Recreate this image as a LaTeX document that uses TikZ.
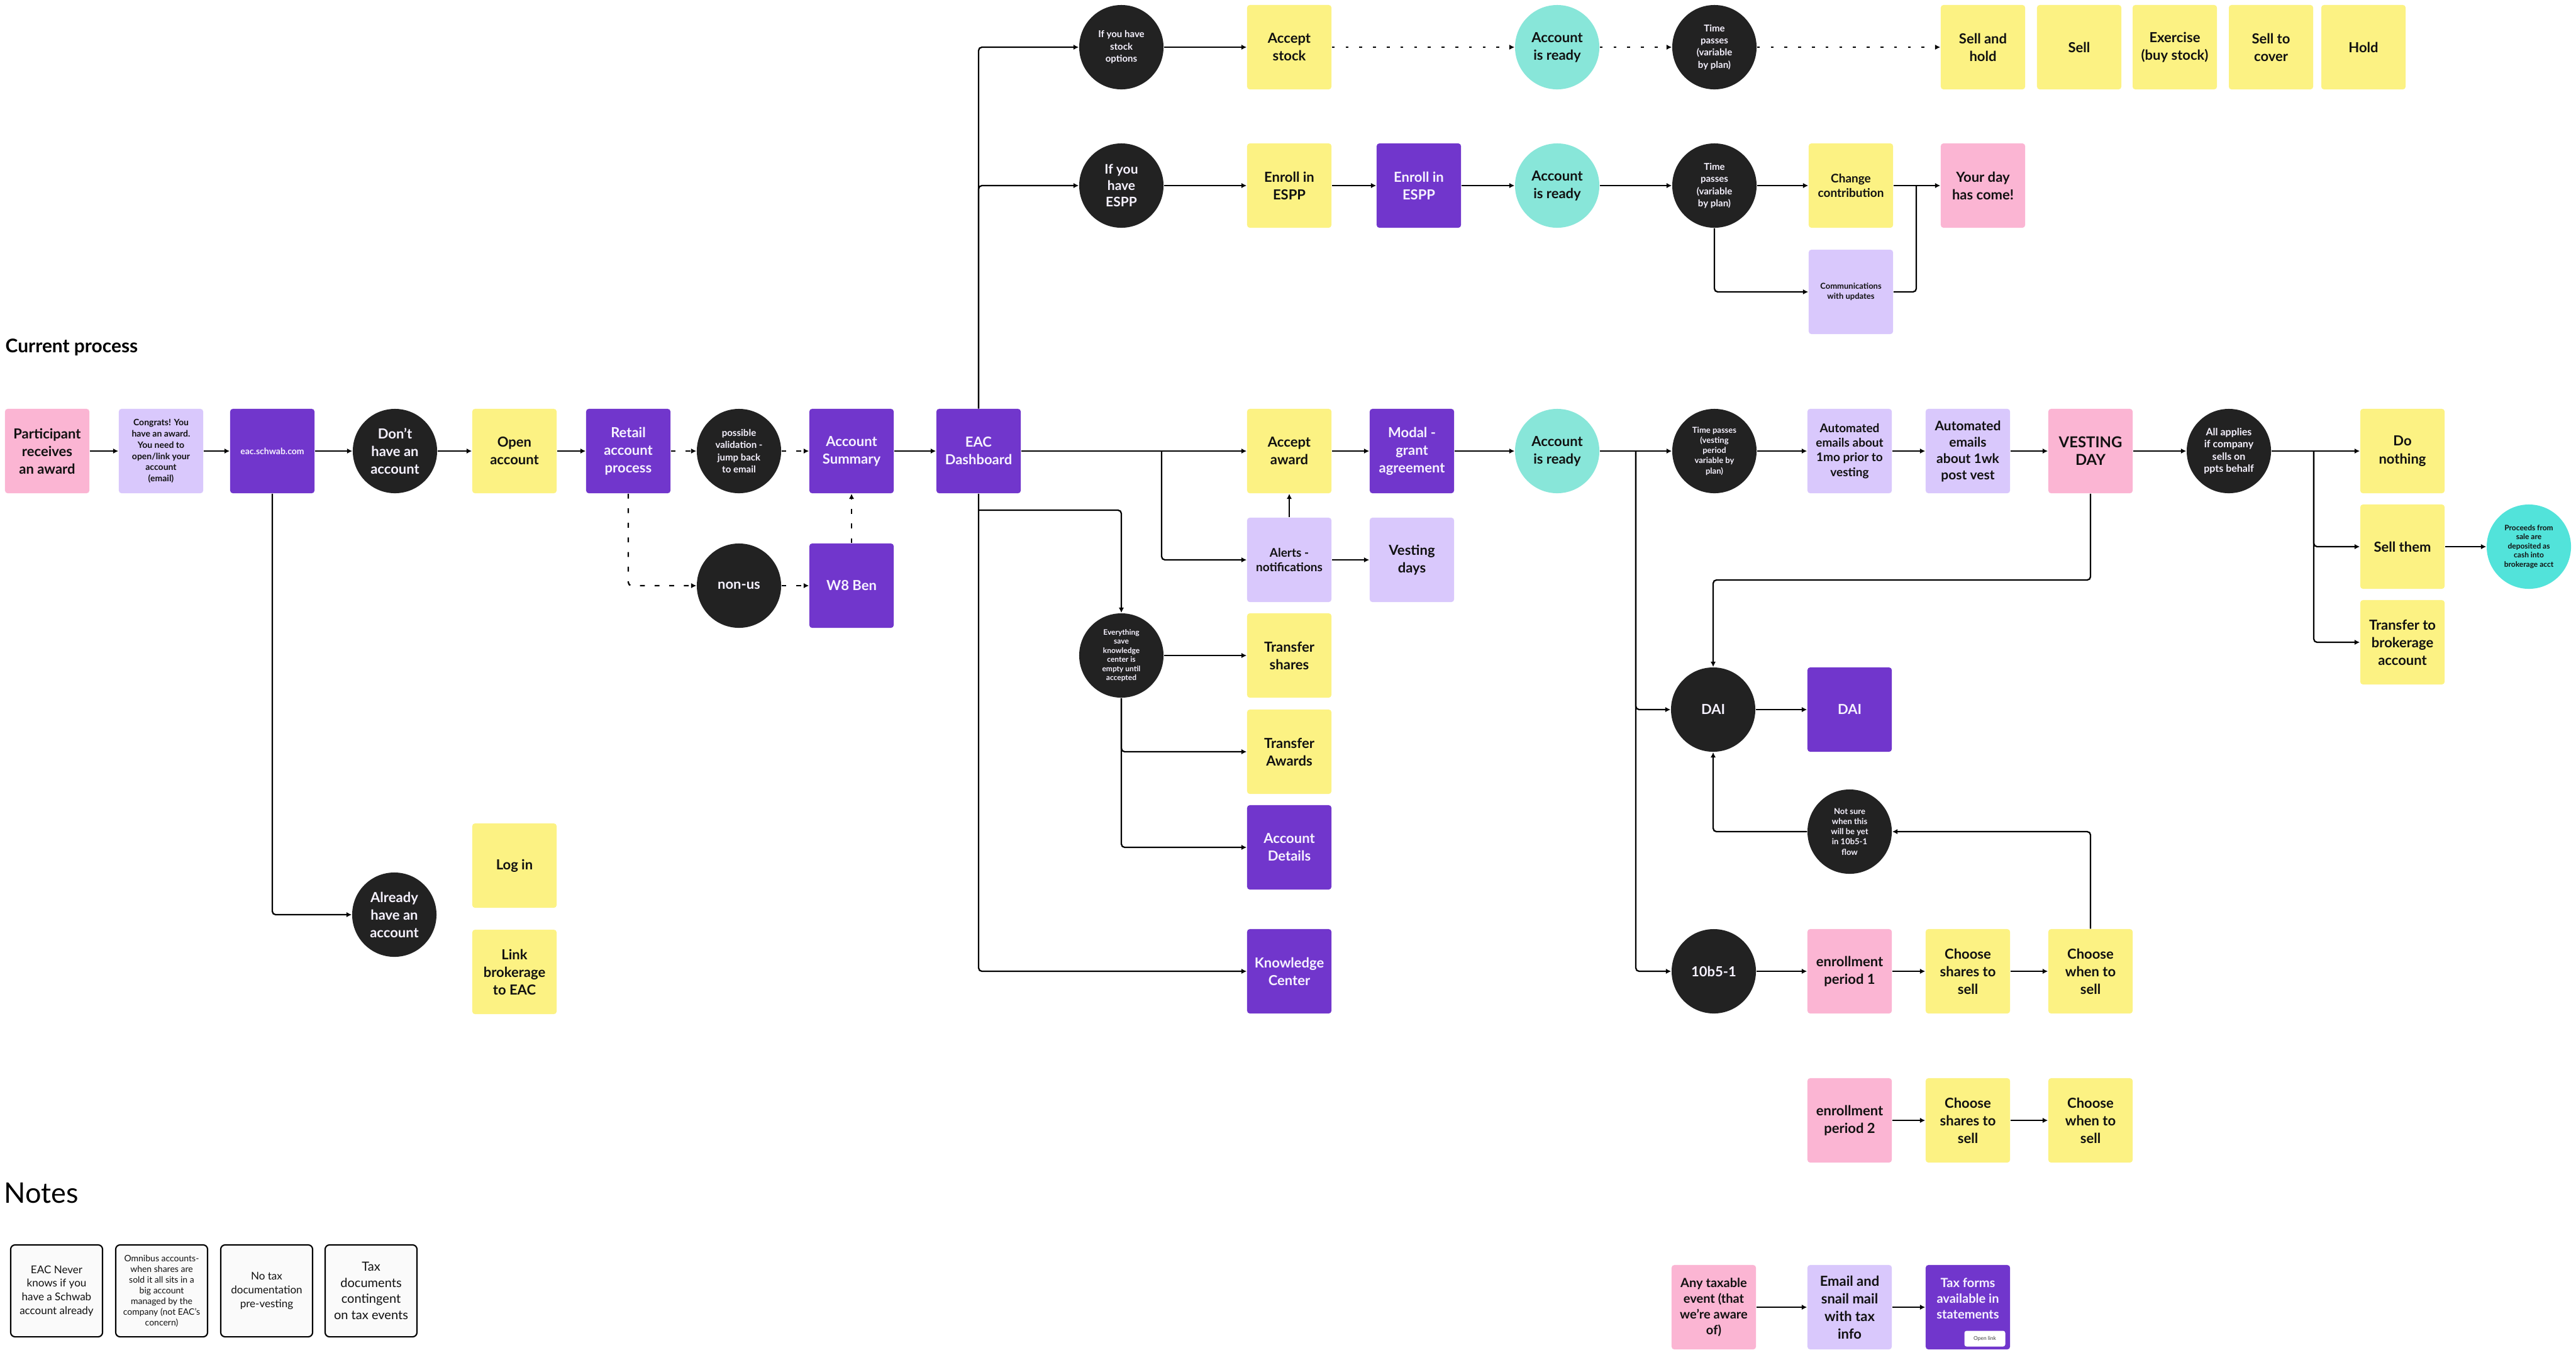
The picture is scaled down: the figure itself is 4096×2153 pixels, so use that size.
\documentclass[tikz,border=0pt]{standalone}
\usepackage{fontspec}
\setmainfont{Lato}
\usetikzlibrary{arrows.meta, positioning, calc}
\usepackage{xcolor}
\definecolor{NoteYellow}{HTML}{FCF283}
\definecolor{NotePink}{HTML}{FBB5D3}
\definecolor{NoteLilac}{HTML}{D9C8FC}
\definecolor{NotePurple}{HTML}{7136CC}
\definecolor{CircleInk}{HTML}{222222}
\definecolor{CircleTeal}{HTML}{88E6D9}
\definecolor{CircleAqua}{HTML}{52E3DA}
\definecolor{MemoGray}{HTML}{FAFAFA}
\definecolor{TextInk}{HTML}{111111}
\definecolor{TextLight}{HTML}{F6F2FF}
% font sizes (picture is drawn at 1 unit = 1 px of the board)
\newcommand{\fsXL}{\fontsize{6.8}{8}\selectfont}
\newcommand{\fsL}{\fontsize{6.26}{7.97}\selectfont}
\newcommand{\fsLm}{\fontsize{5.97}{7.4}\selectfont}
\newcommand{\fsMs}{\fontsize{5.7}{7.1}\selectfont}
\newcommand{\fsM}{\fontsize{5.4}{6.6}\selectfont}
\newcommand{\fsS}{\fontsize{4.27}{5.5}\selectfont}
\newcommand{\fsXS}{\fontsize{3.98}{5.1}\selectfont}
\newcommand{\fsXXS}{\fontsize{3.7}{4.6}\selectfont}
\newcommand{\fsT}{\fontsize{3.4}{4.1}\selectfont}
\tikzset{
    % Sticky notes - square, slightly rounded
    sticky/.style={
        rectangle,
        rounded corners=1.2pt,
        minimum width=1.34cm,
        minimum height=1.34cm,
        inner sep=1pt,
        align=center,
        text=TextInk,
        font=\fsL\bfseries
    },
    yellownote/.style={sticky, fill=NoteYellow},
    pinknote/.style={sticky, fill=NotePink},
    lilacnote/.style={sticky, fill=NoteLilac},
    purplenote/.style={sticky, fill=NotePurple, text=TextLight},
    % Circles
    darkcircle/.style={
        circle,
        fill=CircleInk,
        minimum size=1.34cm,
        inner sep=0pt,
        align=center,
        text=TextLight,
        font=\fsL\bfseries
    },
    tealcircle/.style={darkcircle, fill=CircleTeal, text=TextInk},
    aquacircle/.style={darkcircle, fill=CircleAqua, text=TextInk},
    % Notes boxes
    memo/.style={
        rectangle,
        rounded corners=2pt,
        draw=black,
        line width=0.6pt,
        fill=MemoGray,
        minimum width=1.46cm,
        minimum height=1.46cm,
        inner sep=1pt,
        align=center,
        text=TextInk,
        font=\fontsize{4.84}{6.17}\selectfont
    },
    % Connectors
    link/.style={
        line width=0.65pt,
        draw=black,
        rounded corners=1.5pt
    },
    arrow/.style={
        link,
        -{Latex[length=2.4pt,width=2.4pt]}
    },
    dashedarrow/.style={
        arrow,
        dash pattern=on 2.2pt off 4.4pt
    },
    dottedarrow/.style={
        arrow,
        dash pattern=on 1.3pt off 4.9pt
    }
}

\begin{document}
\begin{tikzpicture}[x=0.01cm, y=-0.01cm]
    \fill[white] (0,0) rectangle (4096,2153);
    \useasboundingbox (0,0) rectangle (4096,2153);

    % Titles
    \node[anchor=base west, inner sep=0pt, font=\fontsize{8.5}{10}\selectfont\bfseries] (title) at (8,560) {Current process};
    \node[anchor=base west, inner sep=0pt, font=\fontsize{12.8}{14}\selectfont] (notestitle) at (6,1912) {Notes};

    % Stock options row
    \node[darkcircle, font=\fsS\bfseries] (opt) at (1783,75) {If you have\\stock\\options};
    \node[yellownote] (acstock) at (2050,75) {Accept\\stock};
    \node[tealcircle] (ready1) at (2476,75) {Account\\is ready};
    \node[darkcircle, font=\fsS\bfseries] (time1) at (2726,75) {Time\\passes\\(variable\\by plan)};
    \node[yellownote] (sellhold) at (3153,75) {Sell and\\hold};
    \node[yellownote] (sell) at (3306,75) {Sell};
    \node[yellownote] (exercise) at (3458,75) {Exercise\\(buy stock)};
    \node[yellownote] (sellcover) at (3611,75) {Sell to\\cover};
    \node[yellownote] (hold) at (3758,75) {Hold};

    % ESPP row
    \node[darkcircle, font=\fsLm\bfseries] (espp) at (1783,295) {If you\\have\\ESPP};
    \node[yellownote] (enrolly) at (2050,295) {Enroll in\\ESPP};
    \node[purplenote] (enrollp) at (2256,295) {Enroll in\\ESPP};
    \node[tealcircle] (ready2) at (2476,295) {Account\\is ready};
    \node[darkcircle, font=\fsS\bfseries] (time2) at (2726,295) {Time\\passes\\(variable\\by plan)};
    \node[yellownote, font=\fsM\bfseries] (change) at (2943,295) {Change\\contribution};
    \node[lilacnote, font=\fsXXS\bfseries] (comms) at (2943,464) {Communications\\with updates};
    \node[pinknote] (dayhas) at (3153,295) {Your day\\has come!};

    % Main row
    \node[pinknote] (award) at (75,717) {Participant\\receives\\an award};
    \node[lilacnote, font=\fsXS\bfseries] (congrats) at (256,717) {Congrats! You\\have an award.\\You need to\\open/link your\\account\\(email)};
    \node[purplenote, font=\fsXS\bfseries] (eac) at (433,717) {eac.schwab.com};
    \node[darkcircle] (dont) at (628,717) {Don't\\have an\\account};
    \node[yellownote] (open) at (818,717) {Open\\account};
    \node[purplenote] (retail) at (999,717) {Retail\\account\\process};
    \node[darkcircle, font=\fsS\bfseries] (valid) at (1175,717) {possible\\validation -\\jump back\\to email};
    \node[purplenote] (summary) at (1354,717) {Account\\Summary};
    \node[purplenote] (dash) at (1556,717) {EAC\\Dashboard};
    \node[yellownote] (acaward) at (2050,717) {Accept\\award};
    \node[purplenote] (modal) at (2245,717) {Modal -\\grant\\agreement};
    \node[tealcircle] (ready3) at (2476,717) {Account\\is ready};
    \node[darkcircle, font=\fsXXS\bfseries] (time3) at (2726,717) {Time passes\\(vesting\\period\\variable by\\plan)};
    \node[lilacnote, font=\fsM\bfseries] (mailmo) at (2941,717) {Automated\\emails about\\1mo prior to\\vesting};
    \node[lilacnote, font=\fsLm\bfseries] (mailwk) at (3129,717) {Automated\\emails\\about 1wk\\post vest};
    \node[pinknote, font=\fsXL\bfseries] (vestday) at (3324,717) {VESTING\\DAY};
    \node[darkcircle, font=\fontsize{4.55}{5.55}\selectfont\bfseries] (applies) at (3544,717) {All applies\\if company\\sells on\\ppts behalf};
    \node[yellownote] (nothing) at (3820,717) {Do\\nothing};
    \node[yellownote] (sellthem) at (3820,869) {Sell them};
    \node[aquacircle, font=\fsT\bfseries] (proceeds) at (4021,869) {Proceeds from\\sale are\\deposited as\\cash into\\brokerage acct};
    \node[yellownote] (transfer) at (3820,1021) {Transfer to\\brokerage\\account};

    % Account branches
    \node[darkcircle] (nonus) at (1175,931) {non-us};
    \node[purplenote] (w8) at (1354,931) {W8 Ben};
    \node[darkcircle] (already) at (627,1454) {Already\\have an\\account};
    \node[yellownote] (login) at (818,1376) {Log in};
    \node[yellownote] (link) at (818,1545) {Link\\brokerage\\to EAC};

    % Dashboard branches
    \node[lilacnote, font=\fsM\bfseries] (alerts) at (2050,890) {Alerts -\\notifications};
    \node[lilacnote] (vdays) at (2245,890) {Vesting\\days};
    \node[darkcircle, font=\fsT\bfseries] (everything) at (1783,1042) {Everything\\save\\knowledge\\center is\\empty until\\accepted};
    \node[yellownote] (tshares) at (2050,1042) {Transfer\\shares};
    \node[yellownote] (tawards) at (2050,1195) {Transfer\\Awards};
    \node[purplenote] (details) at (2050,1347) {Account\\Details};
    \node[purplenote] (knowledge) at (2050,1544) {Knowledge\\Center};

    % DAI and 10b5-1
    \node[darkcircle] (dai) at (2724,1128) {DAI};
    \node[purplenote] (daibox) at (2941,1128) {DAI};
    \node[darkcircle, font=\fsXXS\bfseries] (notsure) at (2941,1322) {Not sure\\when this\\will be yet\\in 10b5-1\\flow};
    \node[darkcircle] (tenb) at (2725,1544) {10b5-1};
    \node[pinknote] (enrone) at (2941,1544) {enrollment\\period 1};
    \node[yellownote] (sharesone) at (3129,1544) {Choose\\shares to\\sell};
    \node[yellownote] (whenone) at (3324,1544) {Choose\\when to\\sell};
    \node[pinknote] (enrtwo) at (2941,1781) {enrollment\\period 2};
    \node[yellownote] (sharestwo) at (3129,1781) {Choose\\shares to\\sell};
    \node[yellownote] (whentwo) at (3324,1781) {Choose\\when to\\sell};

    % Tax row
    \node[pinknote, font=\fsMs\bfseries] (taxable) at (2725,2078) {Any taxable\\event (that\\we're aware\\of)};
    \node[lilacnote] (email) at (2941,2078) {Email and\\snail mail\\with tax\\info};
    \node[purplenote, font=\fsMs\bfseries] (taxforms) at (3129,2078) {Tax forms\\available in\\statements\\[0.9pt]};
    \node[rectangle, rounded corners=1pt, fill=white, minimum width=0.65cm, minimum height=0.25cm, inner sep=0pt, text=black!75, font=\fontsize{2.4}{3}\selectfont] (openlink) at (3156,2128) {Open link};

    % Notes
    \node[memo] (memoone) at (90,2052) {EAC Never\\knows if you\\have a Schwab\\account already};
    \node[memo, font=\fontsize{3.98}{4.84}\selectfont] (memotwo) at (257,2052) {Omnibus accounts-\\when shares are\\sold it all sits in a\\big account\\managed by the\\company (not EAC's\\concern)};
    \node[memo] (memothree) at (424,2052) {No tax\\documentation\\pre-vesting};
    \node[memo, font=\fontsize{5.7}{7.3}\selectfont] (memofour) at (590,2052) {Tax\\documents\\contingent\\on tax events};

    % Junction points
    \coordinate (forkalert) at (1847,717);
    \coordinate (forkdash) at (1556,811);
    \coordinate (mergeday) at (3047,295);
    \coordinate (forkready) at (2601,717);
    \coordinate (bendvest) at (3324,922);
    \coordinate (forksell) at (3679,717);

    % Main row connectors
    \draw[arrow] (award) -- (congrats);
    \draw[arrow] (congrats) -- (eac);
    \draw[arrow] (eac) -- (dont);
    \draw[arrow] (dont) -- (open);
    \draw[arrow] (open) -- (retail);
    \draw[dashedarrow] (retail) -- (valid);
    \draw[dashedarrow] (valid) -- (summary);
    \draw[dashedarrow] (retail.south) |- (nonus.west);
    \draw[dashedarrow] (nonus) -- (w8);
    \draw[dashedarrow] (w8.north) -- (summary.south);
    \draw[arrow] (summary) -- (dash);
    \draw[arrow] (eac.south) |- (already.west);

    % Dashboard connectors
    \draw[arrow] (dash) -- (acaward);
    \draw[arrow] (forkalert) |- (alerts.west);
    \draw[arrow] (alerts.north) -- (acaward.south);
    \draw[arrow] (alerts) -- (vdays);
    \draw[arrow] (dash.south) |- (knowledge.west);
    \draw[arrow] (forkdash) -| (everything.north);
    \draw[arrow] (everything) -- (tshares);
    \draw[arrow] (everything.south) |- (tawards.west);
    \draw[arrow] (everything.south) |- (details.west);
    \draw[arrow] (dash.north) |- (opt.west);
    \draw[arrow] (dash.north) |- (espp.west);

    % Stock options row
    \draw[arrow] (opt) -- (acstock);
    \draw[dottedarrow] (acstock) -- (ready1);
    \draw[dottedarrow] (ready1) -- (time1);
    \draw[dottedarrow] (time1) -- (sellhold);

    % ESPP row
    \draw[arrow] (espp) -- (enrolly);
    \draw[arrow] (enrolly) -- (enrollp);
    \draw[arrow] (enrollp) -- (ready2);
    \draw[arrow] (ready2) -- (time2);
    \draw[arrow] (time2) -- (change);
    \draw[arrow] (time2.south) |- (comms.west);
    \draw[arrow] (change) -- (dayhas);
    \draw[link] (comms.east) -| (mergeday);

    % Award row
    \draw[arrow] (acaward) -- (modal);
    \draw[arrow] (modal) -- (ready3);
    \draw[arrow] (ready3) -- (time3);
    \draw[arrow] (time3) -- (mailmo);
    \draw[arrow] (mailmo) -- (mailwk);
    \draw[arrow] (mailwk) -- (vestday);
    \draw[arrow] (vestday) -- (applies);
    \draw[arrow] (applies) -- (nothing);
    \draw[arrow] (forksell) |- (sellthem.west);
    \draw[arrow] (forksell) |- (transfer.west);
    \draw[arrow] (sellthem) -- (proceeds);

    % Vesting branches
    \draw[arrow] (forkready) |- (dai.west);
    \draw[arrow] (forkready) |- (tenb.west);
    \draw[arrow] (vestday.south) -- (bendvest) -| (dai.north);
    \draw[arrow] (dai) -- (daibox);
    \draw[arrow] (notsure.west) -| (dai.south);
    \draw[arrow] (whenone.north) |- (notsure.east);
    \draw[arrow] (tenb) -- (enrone);
    \draw[arrow] (enrone) -- (sharesone);
    \draw[arrow] (sharesone) -- (whenone);
    \draw[arrow] (enrtwo) -- (sharestwo);
    \draw[arrow] (sharestwo) -- (whentwo);

    % Tax row
    \draw[arrow] (taxable) -- (email);
    \draw[arrow] (email) -- (taxforms);
\end{tikzpicture}
\end{document}
